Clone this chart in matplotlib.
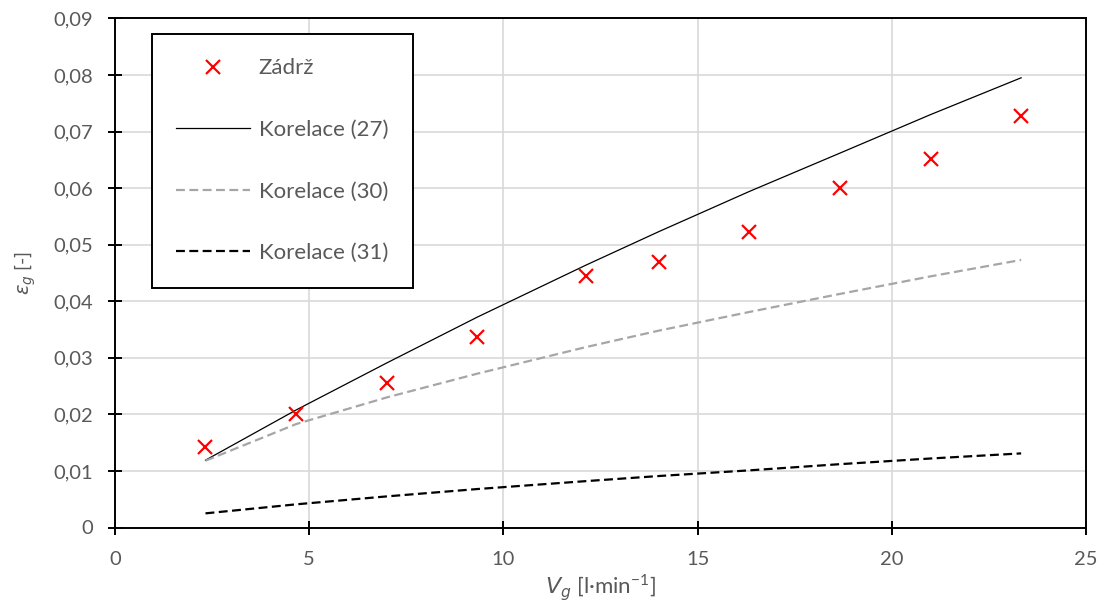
import numpy as np
import matplotlib; matplotlib.use("Agg"); import matplotlib.pyplot as plt
from matplotlib.ticker import FuncFormatter

# prutok plynu [l/min] a namerena zadrz
vg = [2.33, 4.67, 7.0, 9.33, 12.13, 14.0, 16.33, 18.67, 21.0, 23.33]
zadrz = [0.0143, 0.0200, 0.0255, 0.0336, 0.0444, 0.0470, 0.0523, 0.0600, 0.0651, 0.0727]

# korelace
kor27 = [0.0119, 0.0208, 0.0291, 0.0372, 0.0464, 0.0523, 0.0594, 0.0662, 0.0730, 0.0795]
kor30 = [0.0118, 0.0183, 0.0230, 0.0272, 0.0319, 0.0348, 0.0381, 0.0413, 0.0444, 0.0473]
kor31 = [0.0025, 0.0041, 0.0055, 0.0068, 0.0082, 0.0091, 0.0101, 0.0112, 0.0122, 0.0131]

xticks = [0, 5, 10, 15, 20, 25]
yticks = [0, 0.01, 0.02, 0.03, 0.04, 0.05, 0.06, 0.07, 0.08, 0.09]

plt.rcParams["font.family"] = ["Lato", "DejaVu Sans"]
plt.rcParams["mathtext.fontset"] = "dejavusans"
grey = "#595959"

fig = plt.figure(figsize=(11.05, 6.08), dpi=100)
ax = fig.add_axes([115/1105, 1-527.5/608, (1086-115)/1105, (527.5-18.4)/608])

ax.plot(vg, zadrz, "x", color="red", ms=10, mew=1.6, ls="none", label="Zádrž", zorder=5)
ax.plot(vg, kor27, "-", color="black", lw=0.9, label="Korelace (27)", zorder=4)
ax.plot(vg, kor30, "--", color="#a6a6a6", lw=1.6, dashes=(4, 2), label="Korelace (30)", zorder=4)
ax.plot(vg, kor31, "--", color="black", lw=1.6, dashes=(4, 2), label="Korelace (31)", zorder=4)

ax.set_xlim(0, 25); ax.set_ylim(0, 0.09)
ax.set_xticks(xticks); ax.set_yticks(yticks)
ax.yaxis.set_major_formatter(FuncFormatter(lambda v, p: "0" if v == 0 else f"{v:.2f}".replace(".", ",")))
ax.xaxis.set_major_formatter(FuncFormatter(lambda v, p: f"{v:g}"))
ax.tick_params(direction="inout", length=10, width=1.4, labelsize=14.5, labelcolor=grey)
ax.tick_params(axis="y", pad=11)
ax.tick_params(axis="x", pad=12)
ax.grid(True, color="#d9d9d9", lw=1.2, zorder=0)
ax.set_axisbelow(True)
for s in ax.spines.values():
    s.set_linewidth(1.4); s.set_color("black")

ax.set_xlabel(r"$V_g$ [l·min$^{\mathregular{-1}}$]", fontsize=16, color=grey, labelpad=3)
ax.set_ylabel(r"$\varepsilon_g$ [-]", fontsize=14, color=grey, labelpad=11)

leg = ax.legend(loc="upper left", bbox_to_anchor=(152/1105, 1-34/608), bbox_transform=fig.transFigure,
                borderaxespad=0, fontsize=16, labelspacing=1.87, borderpad=1.1, handlelength=3.3,
                handletextpad=0.4, fancybox=False, framealpha=1, edgecolor="black")
leg.get_frame().set_linewidth(1.4)
for t in leg.get_texts():
    t.set_color(grey)

fig.savefig("out.png", dpi=100)
plt.close()
